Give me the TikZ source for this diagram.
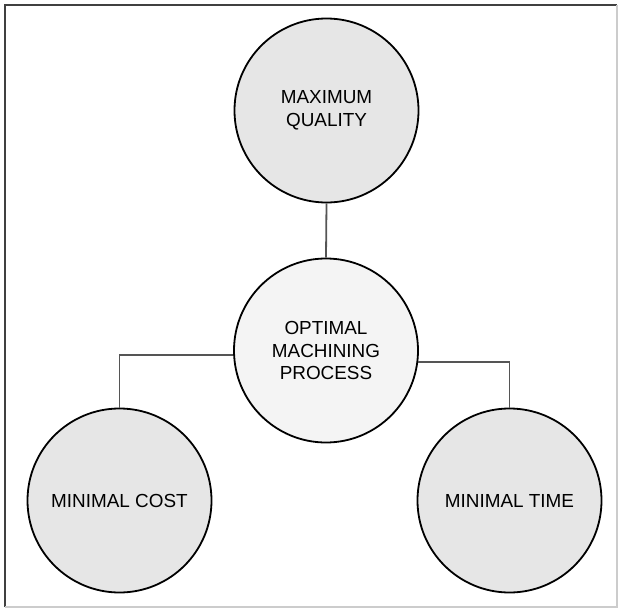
\documentclass[tikz,border=0pt]{standalone}
\usepackage{fontspec}
\setmainfont{Liberation Sans}
\usepackage{tikz}
\usetikzlibrary{calc,positioning}
\definecolor{outerfill}{HTML}{E6E6E6}
\definecolor{innerfill}{HTML}{F4F4F4}
\definecolor{linkgray}{HTML}{555555}

\begin{document}
\begin{tikzpicture}[x=1pt,y=-1pt,font=\fontsize{18.9}{22.5}\selectfont,every node/.style={draw,circle,line width=1.8pt,minimum size=184pt,inner sep=0pt},every text node part/.style={align=center}]
	\useasboundingbox (0,0) rectangle (619,608);
	\draw[black!75,line width=1.3pt] (5,607) -- (5,5) -- (617,5);
	\draw[black!20,line width=1.3pt] (617,5) -- (617,607) -- (5,607);

	\node (quality) at (326.5,110.5) [fill=outerfill] {MAXIMUM\\QUALITY};
	\node (process) at (326,350.5) [fill=innerfill] {OPTIMAL\\MACHINING\\PROCESS};
	\node (cost) at (119.5,500.5) [fill=outerfill] {MINIMAL COST};
	\node (time) at (509.5,500.5) [fill=outerfill] {MINIMAL TIME};

	\draw[linkgray,line width=1.8pt] (quality.south) -- (process.north);
	\draw[linkgray,line width=1.8pt] (process.183) -| (cost.north);
	\draw[linkgray,line width=1.8pt] (process.353) -| (time.north);
\end{tikzpicture}
\end{document}
